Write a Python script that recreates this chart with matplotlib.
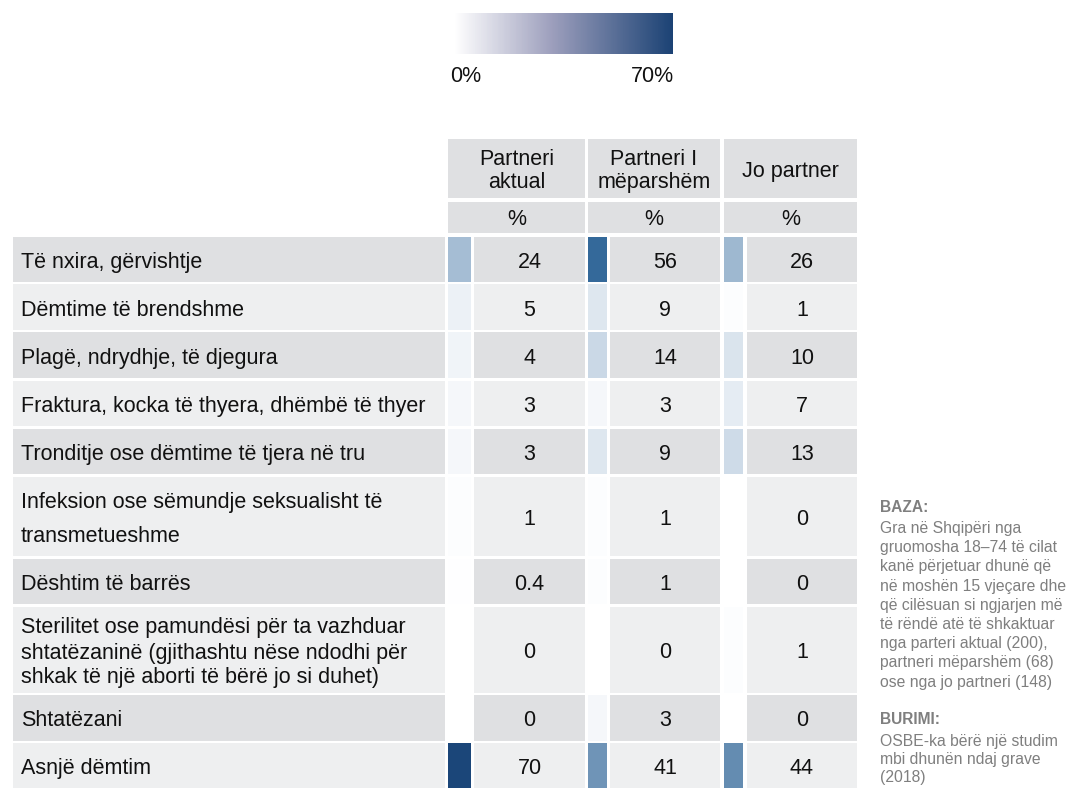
import numpy as np
import matplotlib
matplotlib.use("Agg")
import matplotlib.pyplot as plt
from matplotlib.colors import LinearSegmentedColormap, Normalize
from matplotlib.patches import Rectangle
import matplotlib.colorbar as mcolorbar

plt.rcParams["font.family"] = ["Liberation Sans", "DejaVu Sans"]

# data
row_labels = [
    "Të nxira, gërvishtje",
    "Dëmtime të brendshme",
    "Plagë, ndrydhje, të djegura",
    "Fraktura, kocka të thyera, dhëmbë të thyer",
    "Tronditje ose dëmtime të tjera në tru",
    "Infeksion ose sëmundje seksualisht të\ntransmetueshme",
    "Dështim të barrës",
    "Sterilitet ose pamundësi për ta vazhduar\nshtatëzaninë (gjithashtu nëse ndodhi për\nshkak të një aborti të bërë jo si duhet)",
    "Shtatëzani",
    "Asnjë dëmtim",
]
col_labels = ["Partneri\naktual", "Partneri I\nmëparshëm", "Jo partner"]
partneri_aktual = [24, 5, 4, 3, 3, 1, 0.4, 0, 0, 70]
partneri_meparshem = [56, 9, 14, 3, 9, 1, 1, 0, 3, 41]
jo_partner = [26, 1, 10, 7, 13, 0, 0, 1, 0, 44]
value_labels = [
    ["24", "5", "4", "3", "3", "1", "0.4", "0", "0", "70"],
    ["56", "9", "14", "3", "9", "1", "1", "0", "3", "41"],
    ["26", "1", "10", "7", "13", "0", "0", "1", "0", "44"],
]
baza_text = ("Gra në Shqipëri nga\ngruomosha 18–74 të cilat\nkanë përjetuar dhunë që\n"
             "në moshën 15 vjeçare dhe\nqë cilësuan si ngjarjen më\ntë rëndë atë të shkaktuar\n"
             "nga parteri aktual (200),\npartneri mëparshëm (68)\nose nga jo partneri (148)")
burimi_text = "OSBE-ka bërë një studim\nmbi dhunën ndaj grave\n(2018)"

columns = [partneri_aktual, partneri_meparshem, jo_partner]

W, H = 1071, 809
fig = plt.figure(figsize=(W / 100, H / 100), dpi=100)
ax = fig.add_axes([0, 0, 1, 1])
ax.set_xlim(0, W)
ax.set_ylim(H, 0)
ax.axis("off")

cell_cmap = LinearSegmentedColormap.from_list(
    "cells", [(0, "#ffffff"), (0.34, "#a5bdd4"), (0.59, "#6e93b6"),
              (0.8, "#34699a"), (1.0, "#1b4679")])
bar_cmap = LinearSegmentedColormap.from_list(
    "bar", [(0, "#ffffff"), (0.45, "#9c9ebc"), (1.0, "#1b4274")])
norm = Normalize(0, 70)

dark = "#dfe0e2"
light = "#eeeff0"
txt = "#111111"
fs = 15.5

# column geometry (px)
col_sq = [(448, 471), (588, 607), (724, 743)]
col_val = [(474, 585), (610, 720), (747, 857)]
col_full = [(448, 585), (588, 720), (724, 857)]
rows_y = [(237, 282), (284, 330), (332, 378), (381, 426), (429, 474),
          (477, 556), (559, 604), (607, 693), (695, 741), (743, 788)]

# header
for (x0, x1), lab in zip(col_full, col_labels):
    ax.add_patch(Rectangle((x0, 139), x1 - x0, 59, color=dark, lw=0))
    ax.text((x0 + x1) / 2, 171, lab, ha="center", va="center", fontsize=fs,
            color=txt, linespacing=1.15)
    ax.add_patch(Rectangle((x0, 202), x1 - x0, 31, color=dark, lw=0))
    ax.text((x0 + x1) / 2, 219, "%", ha="center", va="center", fontsize=fs, color=txt)

# body
for i, (lab, (y0, y1)) in enumerate(zip(row_labels, rows_y)):
    bg = dark if i % 2 == 0 else light
    ax.add_patch(Rectangle((13, y0), 445 - 13, y1 - y0, color=bg, lw=0))
    ls = 1.85 if i == 5 else 1.25
    ax.text(21, (y0 + y1) / 2 + 3, lab, ha="left", va="center", fontsize=fs,
            color=txt, linespacing=ls)
    for j in range(3):
        v = columns[j][i]
        sx0, sx1 = col_sq[j]
        ax.add_patch(Rectangle((sx0, y0), sx1 - sx0, y1 - y0,
                               color=cell_cmap(norm(v)), lw=0))
        vx0, vx1 = col_val[j]
        ax.add_patch(Rectangle((vx0, y0), vx1 - vx0, y1 - y0, color=bg, lw=0))
        ax.text((vx0 + vx1) / 2, (y0 + y1) / 2 + 3, value_labels[j][i],
                ha="center", va="center", fontsize=fs, color=txt)

# colour bar
cax = fig.add_axes([454 / W, 1 - 54 / H, (673 - 454) / W, (54 - 13) / H])
cb = mcolorbar.ColorbarBase(cax, cmap=bar_cmap, norm=norm, orientation="horizontal")
cb.set_ticks([])
cb.outline.set_visible(False)
ax.text(450, 76, "0%", ha="left", va="center", fontsize=15.5, color=txt)
ax.text(674, 76, "70%", ha="right", va="center", fontsize=15.5, color=txt)

# notes
grey = "#7f7f7f"
ax.text(880, 508, "BAZA:", ha="left", va="center", fontsize=11.2, color=grey,
        fontweight="bold")
ax.text(880, 521, baza_text, ha="left", va="top", fontsize=11.3, color=grey,
        linespacing=1.35)
ax.text(880, 720, "BURIMI:", ha="left", va="center", fontsize=11.2, color=grey,
        fontweight="bold")
ax.text(880, 734, burimi_text, ha="left", va="top", fontsize=11.3, color=grey,
        linespacing=1.25)

fig.savefig("out.png", dpi=100)
